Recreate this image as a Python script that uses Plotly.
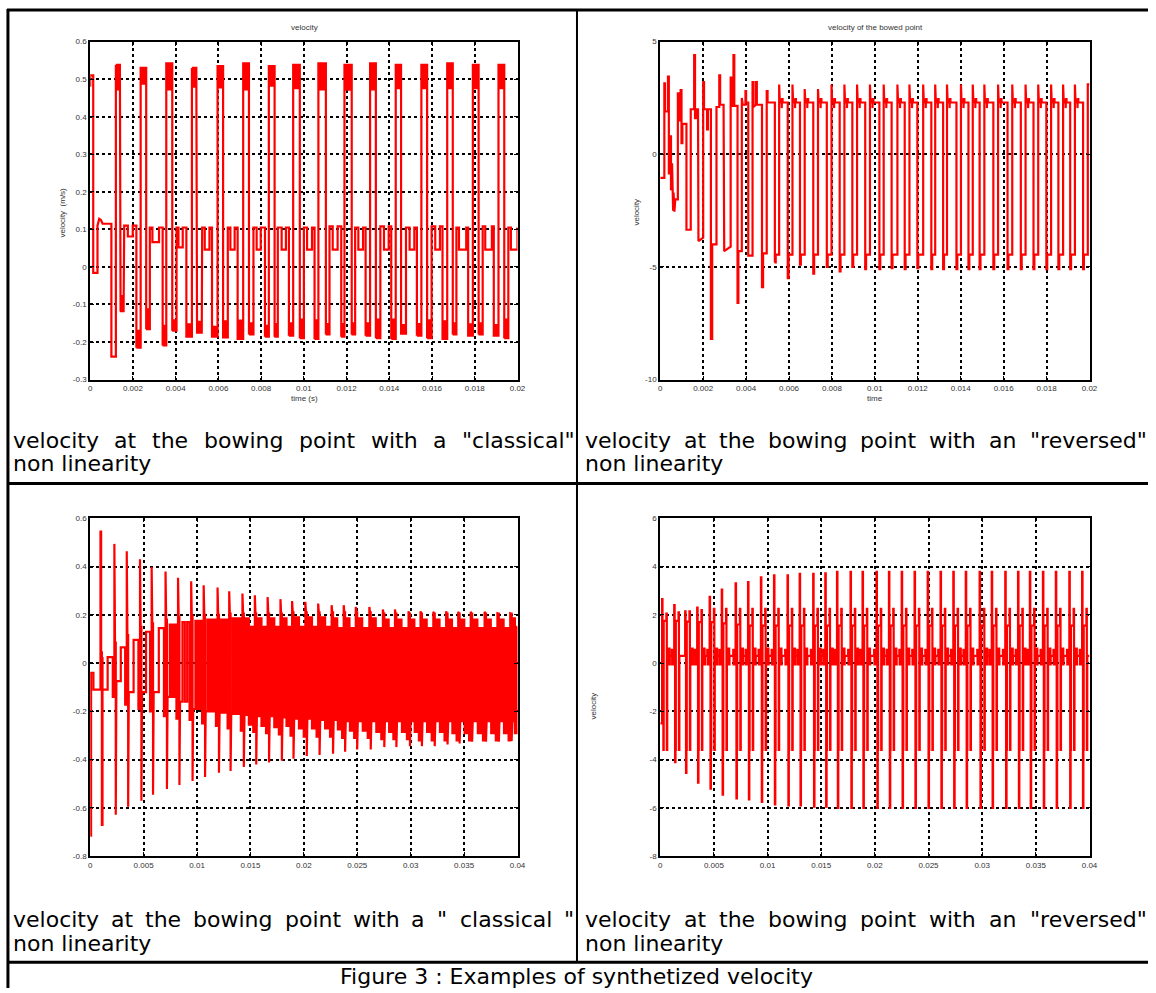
import plotly.graph_objects as go

# ---------------- DATA (time in ms, velocity values) ----------------
# Plot 1 : classical non linearity, 0..0.02 s
P1_INIT_T = [0.0, 0.0, 0.14, 0.14, 0.34, 0.34, 0.42, 0.50, 0.58, 0.99, 0.99, 1.20]
P1_INIT_V = [0.48, 0.51, 0.51, -0.016, -0.016, 0.11, 0.128, 0.125, 0.115, 0.115, -0.239, -0.239]
P1_PULSE_ON = [1.20, 2.36, 3.56, 4.76, 5.96, 7.16, 8.36, 9.50, 10.68, 11.90, 13.10, 14.30, 15.50, 16.71, 17.91, 19.11]
P1_PULSE_OFF = [1.42, 2.62, 3.84, 5.00, 6.22, 7.43, 8.63, 9.81, 11.03, 12.24, 13.37, 14.55, 15.77, 16.97, 18.18, 19.38]
P1_PULSE_TOP = [0.538, 0.530, 0.542, 0.530, 0.535, 0.542, 0.535, 0.538, 0.542, 0.538, 0.542, 0.538, 0.538, 0.542, 0.538, 0.538]
P1_PULSE_LOW = [0.473, 0.485, 0.470, 0.480, 0.475, 0.470, 0.480, 0.473, 0.470, 0.469, 0.470, 0.473, 0.473, 0.473, 0.473, 0.473]
P1_POST_END = [1.59, 2.79, 4.04, 5.24, 6.44, 7.64, 8.78, 10.00, 11.20, 12.40, 13.58, 14.78, 15.98, 17.14, 18.37, 19.57]
P1_POST_LO = [-0.118, -0.166, -0.170, -0.178, -0.188, -0.180, -0.186, -0.190, -0.180, -0.180, -0.190, -0.178, -0.190, -0.180, -0.180, -0.190]
P1_POST_HI = [-0.078, -0.113, -0.142, -0.146, -0.142, -0.150, -0.152, -0.140, -0.152, -0.150, -0.140, -0.152, -0.142, -0.150, -0.150, -0.140]
P1_PLATEAU = [0.110, 0.105, 0.105, 0.105, 0.105, 0.105, 0.105, 0.105, 0.108, 0.105, 0.108, 0.105, 0.108, 0.105, 0.108, 0.105]
P1_DIP_ON = [1.76, 2.91, 4.13, 5.36, 6.56, 7.79, 8.96, 10.15, 11.35, 12.55, 13.75, 14.95, 16.15, 17.26, 18.49, 19.69]
P1_DIP_OFF = [1.99, 3.22, 4.33, 5.58, 6.76, 7.98, 9.16, 10.38, 11.58, 12.77, 13.97, 15.17, 16.37, 17.60, 18.80, 20.00]
P1_DIP_V = [0.081, 0.066, 0.052, 0.046, 0.046, 0.046, 0.046, 0.046, 0.046, 0.046, 0.046, 0.046, 0.046, 0.046, 0.046, 0.046]
P1_PRE_ON = [2.16, 3.39, 4.50, 5.70, 6.90, 8.18, 9.30, 10.50, 11.75, 12.89, 14.09, 15.29, 16.49, 17.69, 18.89]
P1_PRE_LO = [-0.215, -0.209, -0.186, -0.186, -0.192, -0.186, -0.183, -0.192, -0.186, -0.183, -0.192, -0.183, -0.192, -0.183, -0.183]
P1_PRE_HI = [-0.170, -0.157, -0.150, -0.157, -0.140, -0.157, -0.150, -0.142, -0.152, -0.150, -0.140, -0.152, -0.142, -0.150, -0.152]

# Plot 2 : reversed non linearity, 0..0.02 s
P2_INIT_T = [0, 0.19, 0.19, 0.22, 0.22, 0.36, 0.36, 0.40, 0.40, 0.45, 0.45, 0.50, 0.50, 0.55, 0.60, 0.62, 0.66, 0.70,
             0.82, 0.82, 0.86, 0.86, 0.95, 0.95, 0.99, 0.99, 1.03, 1.03, 1.22, 1.22, 1.42, 1.42, 1.58, 1.58, 1.62, 1.62,
             1.66, 1.66, 1.76, 1.76, 1.78, 2.00, 2.00, 2.04, 2.04, 2.18, 2.18, 2.22, 2.22, 2.36, 2.36, 2.42, 2.42, 2.62,
             2.62, 2.75, 2.75, 2.79, 2.79, 2.95, 2.95, 2.98, 3.28, 3.28, 3.32, 3.32, 3.41, 3.41, 3.45, 3.45, 3.60, 3.60,
             3.64, 3.64, 3.80, 3.80, 3.84, 3.97, 3.97, 4.00, 4.00, 4.10, 4.10, 4.30, 4.30, 4.34, 4.34, 4.46, 4.46, 4.50,
             4.50, 4.74, 4.74, 4.79, 4.79, 4.96, 4.96, 5.00, 5.00, 5.34]
P2_INIT_V = [-1.05, -1.05, 3.15, 3.15, 1.9, 1.9, 3.45, 3.45, -0.85, -0.85, 0.8, 0.8, -1.6, -0.4, -2.5, -1.7, -2.55, -2.0,
             -2.0, 2.7, 2.7, 1.5, 1.5, 2.85, 2.85, 0.5, 0.5, 1.35, 1.35, -3.35, -3.35, 2.0, 2.0, 4.4, 4.4, 1.6,
             1.6, 2.0, 2.0, -3.7, -3.85, -3.7, 3.2, 3.2, 2.0, 2.0, 1.1, 1.1, 2.0, 2.0, -8.2, -8.2, -4.0, -4.0,
             2.1, 2.1, 3.5, 3.5, 2.2, 2.2, -4.2, -4.3, -4.1, 3.4, 3.4, 2.15, 2.15, 4.4, 4.4, 2.15, 2.15, -6.6,
             -6.6, -4.3, -4.3, 2.5, 2.2, 2.2, 2.8, 2.8, 2.3, 2.3, -4.5, -4.5, 3.2, 3.2, 2.1, 2.2, 3.2, 3.2,
             2.2, 2.2, -5.9, -5.9, -4.4, -4.4, 2.8, 2.8, 2.3, 2.3]
P2_FALL = [5.34, 5.94, 6.51, 7.13, 7.76, 8.36, 8.95, 9.55, 10.21, 10.78, 11.39, 11.98, 12.63, 13.18, 13.80, 14.36,
           14.88, 15.52, 16.18, 16.80, 17.39, 17.99, 18.55, 19.10, 19.70]
P2_RISE = [5.54, 6.16, 6.73, 7.35, 7.98, 8.58, 9.17, 9.77, 10.41, 11.05, 11.61, 12.25, 12.81, 13.36, 14.01, 14.56,
           15.10, 15.74, 16.40, 17.02, 17.61, 18.21, 18.77, 19.32, 19.92]
P2_LOW_SPIKE = [-4.8, -5.5, -4.9, -5.3, -5.0, -5.2, -5.0, -5.1, -5.1, -5.05, -5.1, -5.05, -5.1, -5.1, -5.1, -5.1,
                -5.1, -5.1, -5.1, -5.1, -5.1, -5.1, -5.1, -5.1, -5.1]
P2_HIGH_SPIKE = [3.1, 3.1, 2.9, 2.9, 3.1, 3.1, 3.1, 3.1, 3.1, 3.1, 3.1, 3.1, 3.1, 3.1, 3.1, 3.1,
                 3.1, 3.1, 3.1, 3.1, 3.1, 3.1, 3.1, 3.1, 3.1]
P2_LOW_LEVEL = [-4.45]
P2_HIGH_LEVEL = [2.3]

# Plot 3 : classical non linearity, 0..0.04 s
P3_INIT_T = [0.0, 0.08, 0.08, 0.30, 0.30, 0.96]
P3_INIT_V = [-0.715, -0.715, -0.04, -0.04, -0.11, -0.11]
P3_UP_T = [0.96, 2.26, 3.42, 4.66, 5.75, 7.05, 8.22, 9.45, 10.62, 11.92, 13.01, 14.25, 15.41, 16.61, 17.81, 18.90,
           20.14, 21.34, 22.60, 23.73, 24.86, 26.13, 27.40, 28.53, 29.80, 30.92, 32.12, 33.32, 34.45, 35.62, 36.92,
           38.12, 39.32]
P3_UP_V = [0.545, 0.494, 0.463, 0.430, 0.398, 0.380, 0.354, 0.339, 0.323, 0.313, 0.298, 0.288, 0.281, 0.274, 0.265,
           0.257, 0.254, 0.247, 0.240, 0.240, 0.233, 0.233, 0.222, 0.222, 0.215, 0.215, 0.213, 0.215, 0.213, 0.213,
           0.213, 0.206, 0.206]
P3_DN_V = [-0.670, -0.628, -0.595, -0.570, -0.545, -0.522, -0.505, -0.488, -0.472, -0.454, -0.447, -0.430, -0.420,
           -0.412, -0.405, -0.396, -0.385, -0.381, -0.375, -0.367, -0.358, -0.358, -0.348, -0.348, -0.344, -0.344,
           -0.344, -0.337, -0.333, -0.326, -0.326, -0.326, -0.323]
P3_HI = [0.025, 0.065, 0.096, 0.130, 0.145, 0.160, 0.170, 0.175, 0.180, 0.180, 0.185, 0.185, 0.185, 0.185, 0.185,
         0.190, 0.190, 0.190, 0.190, 0.190, 0.190, 0.190, 0.185, 0.185, 0.185, 0.185, 0.185, 0.185, 0.185, 0.185,
         0.185, 0.185, 0.185]
P3_HI2 = [0.025, 0.065, 0.096, 0.100, 0.110, 0.120, 0.130, 0.140, 0.150, 0.150, 0.150, 0.150, 0.150, 0.150, 0.150,
          0.150, 0.150, 0.150, 0.150, 0.150, 0.150, 0.150, 0.150, 0.150, 0.150, 0.150, 0.150, 0.150, 0.150, 0.150,
          0.150, 0.150, 0.150]
P3_LO = [-0.110, -0.075, -0.120, -0.120, -0.120, -0.140, -0.160, -0.190, -0.200, -0.205, -0.210, -0.215, -0.220,
         -0.220, -0.225, -0.230, -0.230, -0.235, -0.235, -0.240, -0.240, -0.240, -0.240, -0.240, -0.240, -0.240,
         -0.240, -0.240, -0.240, -0.240, -0.240, -0.240, -0.240]
P3_LO2 = [-0.110, -0.075, -0.120, -0.150, -0.160, -0.180, -0.200, -0.220, -0.235, -0.245, -0.250, -0.255, -0.260,
          -0.265, -0.265, -0.270, -0.270, -0.275, -0.275, -0.280, -0.280, -0.285, -0.285, -0.285, -0.285, -0.285,
          -0.285, -0.290, -0.290, -0.290, -0.290, -0.290, -0.290]
P3_STEP = [-0.140, -0.172, -0.190, -0.200, -0.220, -0.230, -0.235, -0.250, -0.260, -0.270, -0.280, -0.285, -0.290,
           -0.295, -0.300, -0.305, -0.305, -0.305, -0.310, -0.310, -0.310, -0.315, -0.315, -0.315, -0.320, -0.320,
           -0.320, -0.320, -0.320, -0.320, -0.320, -0.320, -0.290]
P3_TEETH = [1, 1, 1, 1, 1, 2, 2, 2, 3, 3, 3, 4, 4, 5, 5, 6, 6, 7, 7, 8, 8, 9, 9, 10, 10, 10, 10, 10, 10, 10,
            10, 10, 10]

# Plot 4 : reversed non linearity, 0..0.04 s
P4_UP_T = [0.17, 1.30, 2.32, 3.44, 4.60, 5.73, 7.02, 8.18, 9.38, 10.60, 11.86, 12.99, 14.25, 15.38, 16.47, 17.73,
           18.85, 20.15, 21.31, 22.50, 23.70, 24.92, 26.12, 27.31, 28.47, 29.76, 30.89, 32.15, 33.34, 34.44, 35.66,
           36.86, 38.12, 39.31]
P4_UP_V = [2.65, 2.40, 2.15, 2.30, 2.75, 3.05, 3.30, 3.36, 3.55, 3.64, 3.64, 3.70, 3.70, 3.72, 3.78, 3.78, 3.78,
           3.78, 3.78, 3.78, 3.78, 3.78, 3.78, 3.78, 3.78, 3.78, 3.78, 3.78, 3.78, 3.78, 3.78, 3.78, 3.78, 3.78]
P4_DN_V = [-0.35, -4.10, -4.55, -4.95, -5.20, -5.45, -5.60, -5.65, -5.75, -5.85, -5.90, -5.90, -5.95, -5.95, -6.00,
           -6.00, -6.00, -6.00, -6.00, -6.00, -6.00, -6.00, -6.00, -6.00, -6.00, -6.00, -6.00, -6.00, -6.00, -6.00,
           -6.00, -6.00, -6.00, -6.00]
P4_PLATEAU = [1.75, 1.75, 1.72, 1.70, 1.70, 1.65, 1.60, 1.55, 1.55, 1.55, 1.55, 1.55, 1.55, 1.55, 1.55, 1.55, 1.55,
              1.55, 1.55, 1.55, 1.55, 1.55, 1.55, 1.55, 1.55, 1.55, 1.55, 1.55, 1.55, 1.55, 1.55, 1.55, 1.55, 1.55]
P4_SECOND = [2.05, 2.10, 2.15, 2.20, 2.25, 2.25, 2.25, 2.25, 2.25, 2.25, 2.25, 2.25, 2.25, 2.25, 2.25, 2.25, 2.25,
             2.25, 2.25, 2.25, 2.25, 2.25, 2.25, 2.25, 2.25, 2.25, 2.25, 2.25, 2.25, 2.25, 2.25, 2.25, 2.25, 2.25]
P4_MID_LOW = [-3.6]
P4_BASE = [0.30]
P4_BUMP_HI = [0.60]
P4_BUMP_LO = [-0.05]

# Axis tick labels
P1_XTICKS = [0, 0.002, 0.004, 0.006, 0.008, 0.01, 0.012, 0.014, 0.016, 0.018, 0.02]
P1_XTEXT = ["0", "0.002", "0.004", "0.006", "0.008", "0.01", "0.012", "0.014", "0.016", "0.018", "0.02"]
P1_YTICKS = [-0.3, -0.2, -0.1, 0, 0.1, 0.2, 0.3, 0.4, 0.5, 0.6]
P1_YTEXT = ["-0.3", "-0.2", "-0.1", "0", "0.1", "0.2", "0.3", "0.4", "0.5", "0.6"]
P2_YTICKS = [-10, -5, 0, 5]
P2_YTEXT = ["-10", "-5", "0", "5"]
P3_XTICKS = [0, 0.005, 0.01, 0.015, 0.02, 0.025, 0.03, 0.035, 0.04]
P3_XTEXT = ["0", "0.005", "0.01", "0.015", "0.02", "0.025", "0.03", "0.035", "0.04"]
P3_YTICKS = [-0.8, -0.6, -0.4, -0.2, 0, 0.2, 0.4, 0.6]
P3_YTEXT = ["-0.8", "-0.6", "-0.4", "-0.2", "0", "0.2", "0.4", "0.6"]
P4_YTICKS = [-8, -6, -4, -2, 0, 2, 4, 6]
P4_YTEXT = ["-8", "-6", "-4", "-2", "0", "2", "4", "6"]

TITLES = ["velocity", "velocity of the bowed point"]
CAPTION_LEFT_1 = ['velocity', 'at', 'the', 'bowing', 'point', 'with', 'a', '"classical"']
CAPTION_RIGHT = ['velocity', 'at', 'the', 'bowing', 'point', 'with', 'an', '"reversed"']
CAPTION_LEFT_2 = ['velocity', 'at', 'the', 'bowing', 'point', 'with', 'a', '"', 'classical', '"']
CAPTION_LINE2 = "non linearity"
FIG_CAPTION = "Figure 3 : Examples of synthetized velocity"


# ---------------- waveform assembly (step signal from the values above) ----------------
class Wave:
    def __init__(self, ts, vs):
        self.x = list(ts)
        self.y = list(vs)

    def jump(self, t, v):
        self.x += [t, t]
        self.y += [self.y[-1], v]

    def hold(self, t):
        self.x.append(t)
        self.y.append(self.y[-1])

    def block(self, t1, a, b, n):
        t0 = self.x[-1]
        dt = (t1 - t0) / n
        for i in range(n):
            self.jump(t0 + i * dt, a)
            self.jump(t0 + (i + 0.5) * dt, b)
        self.hold(t1)

    def sec(self):
        return [t / 1000.0 for t in self.x], self.y


# plot 1
w1 = Wave(P1_INIT_T, P1_INIT_V)
for k in range(len(P1_PULSE_ON)):
    if k > 0:
        w1.jump(P1_PRE_ON[k - 1], P1_PRE_LO[k - 1])
        w1.block(P1_PULSE_ON[k], P1_PRE_HI[k - 1], P1_PRE_LO[k - 1], 6)
    w1.jump(P1_PULSE_ON[k], P1_PULSE_TOP[k])
    w1.block(P1_PULSE_OFF[k], P1_PULSE_LOW[k], P1_PULSE_TOP[k], 7)
    w1.jump(P1_PULSE_OFF[k], P1_POST_LO[k])
    w1.block(P1_POST_END[k], P1_POST_HI[k], P1_POST_LO[k], 6)
    w1.jump(P1_POST_END[k], P1_PLATEAU[k])
    w1.hold(P1_DIP_ON[k])
    w1.jump(P1_DIP_ON[k], P1_DIP_V[k])
    w1.hold(P1_DIP_OFF[k])
    w1.jump(P1_DIP_OFF[k], P1_PLATEAU[k])
    if k < len(P1_PRE_ON):
        w1.hold(P1_PRE_ON[k])

# plot 2
w2 = Wave(P2_INIT_T, P2_INIT_V)
for k in range(len(P2_RISE)):
    f, r = P2_FALL[k], P2_RISE[k]
    w2.jump(f, P2_LOW_SPIKE[k])
    w2.block(f + 0.04, -4.6, P2_LOW_SPIKE[k], 2)
    w2.jump(f + 0.04, P2_LOW_LEVEL[0])
    w2.hold(r)
    w2.jump(r, P2_HIGH_SPIKE[k])
    end = P2_FALL[k + 1] if k + 1 < len(P2_FALL) else 20.0
    if r + 0.16 < end:
        w2.hold(r + 0.03)
        w2.jump(r + 0.03, P2_HIGH_LEVEL[0])
        w2.hold(r + 0.12)
        w2.block(r + 0.16, 2.05, 2.45, 2)
        w2.jump(r + 0.16, P2_HIGH_LEVEL[0])
    w2.hold(end)

# plot 3
w3 = Wave(P3_INIT_T, P3_INIT_V)
n3 = len(P3_UP_T)
for k in range(n3):
    t = P3_UP_T[k]
    tn = P3_UP_T[k + 1] if k + 1 < n3 else 40.0
    w3.jump(t, P3_UP_V[k])
    w3.hold(t + 0.06)
    w3.jump(t + 0.06, P3_HI[k] + 0.02)
    w3.hold(t + 0.13)
    w3.jump(t + 0.13, P3_DN_V[k])
    w3.hold(t + 0.19)
    w3.jump(t + 0.19, P3_HI[k])
    end = tn - 0.15 if k + 1 < n3 else 40.0
    nt = P3_TEETH[k]
    if nt >= 4:
        mid = t + 0.19 + (end - t - 0.19) * 0.5
        w3.block(mid, P3_LO[k], P3_HI[k], nt // 2)
        w3.block(end, P3_LO2[k], P3_HI2[k], nt - nt // 2)
    else:
        w3.block(end, P3_LO[k], P3_HI[k], nt)
    if k + 1 < n3:
        w3.jump(end, P3_STEP[k])
        w3.hold(tn)

# plot 4
w4 = Wave([0.0, 0.0], [-2.5, -2.5])
n4 = len(P4_UP_T)
for k in range(n4):
    t = P4_UP_T[k]
    tn = P4_UP_T[k + 1] if k + 1 < n4 else 40.0
    w4.hold(t)
    w4.jump(t, P4_UP_V[k]); w4.hold(t + 0.04)
    w4.jump(t + 0.04, P4_PLATEAU[k]); w4.hold(t + 0.08)
    w4.jump(t + 0.08, P4_DN_V[k]); w4.hold(t + 0.12)
    w4.jump(t + 0.12, P4_MID_LOW[0]); w4.hold(t + 0.15)
    w4.jump(t + 0.15, P4_PLATEAU[k]); w4.hold(t + 0.40)
    w4.jump(t + 0.40, P4_SECOND[k]); w4.hold(t + 0.44)
    w4.jump(t + 0.44, P4_MID_LOW[0]); w4.hold(min(t + 0.48, tn))
    if t + 0.48 < tn:
        w4.jump(t + 0.48, P4_BASE[0]); w4.hold(t + 0.62)
        if t + 0.72 < tn - 0.3:
            w4.block(t + 0.72, P4_BUMP_HI[0], P4_BUMP_LO[0], 2)
            w4.jump(t + 0.72, P4_BASE[0]); w4.hold(tn - 0.22)
            w4.block(tn - 0.10, P4_BUMP_HI[0] - 0.05, P4_BUMP_LO[0], 2)
            w4.jump(tn - 0.10, P4_BASE[0])
        w4.hold(tn)

# ---------------- figure ----------------
W, H = 1156, 993
RED = '#ff0000'


def px(x):
    return x / W


def py(y):
    return 1 - y / H


fig = go.Figure()
for i, w in enumerate([w1, w2, w3, w4]):
    xs, ys = w.sec()
    fig.add_trace(go.Scatter(x=xs, y=ys, mode='lines', line=dict(color=RED, width=2.2),
                             xaxis='x' if i == 0 else 'x%d' % (i + 1),
                             yaxis='y' if i == 0 else 'y%d' % (i + 1),
                             showlegend=False, hoverinfo='skip'))

tickfont = dict(family='Liberation Sans, Arial, sans-serif', size=8, color='#333333')
common = dict(showline=True, linecolor='black', linewidth=2, mirror='ticks', ticks='inside', ticklen=4,
              tickcolor='black', tickwidth=1, showgrid=True, gridcolor='black', griddash='dot', gridwidth=1.5,
              zeroline=False, tickfont=tickfont, fixedrange=True, tickmode='array')

colL = [px(89), px(520)]
colR = [px(664), px(1097)]
rowT = [py(379), py(38)]
rowB = [py(860), py(519)]

fig.update_layout(
    width=W, height=H, margin=dict(l=0, r=0, t=0, b=0), autosize=False,
    paper_bgcolor='white', plot_bgcolor='white', showlegend=False,
    xaxis=dict(domain=colL, range=[0, 0.02], tickvals=P1_XTICKS, ticktext=P1_XTEXT, anchor='y', **common),
    yaxis=dict(domain=rowT, range=[-0.3, 0.6], tickvals=P1_YTICKS, ticktext=P1_YTEXT, anchor='x', **common),
    xaxis2=dict(domain=colR, range=[0, 0.02], tickvals=P1_XTICKS, ticktext=P1_XTEXT, anchor='y2', **common),
    yaxis2=dict(domain=rowT, range=[-10, 5], tickvals=P2_YTICKS, ticktext=P2_YTEXT, anchor='x2', **common),
    xaxis3=dict(domain=colL, range=[0, 0.04], tickvals=P3_XTICKS, ticktext=P3_XTEXT, anchor='y3', **common),
    yaxis3=dict(domain=rowB, range=[-0.8, 0.6], tickvals=P3_YTICKS, ticktext=P3_YTEXT, anchor='x3', **common),
    xaxis4=dict(domain=colR, range=[0, 0.04], tickvals=P3_XTICKS, ticktext=P3_XTEXT, anchor='y4', **common),
    yaxis4=dict(domain=rowB, range=[-8, 6], tickvals=P4_YTICKS, ticktext=P4_YTEXT, anchor='x4', **common),
)

# table rules
shapes = []


def hline(y, x0, x1, wdt):
    shapes.append(dict(type='line', xref='paper', yref='paper', x0=px(x0), x1=px(x1), y0=py(y), y1=py(y),
                       line=dict(color='black', width=wdt)))


def vline(x, y0, y1, wdt):
    shapes.append(dict(type='line', xref='paper', yref='paper', x0=px(x), x1=px(x), y0=py(y0), y1=py(y1),
                       line=dict(color='black', width=wdt)))


hline(6, 5, W, 3)
vline(6, 5, H, 3)
vline(580, 6, 967, 2)
hline(484, 6, W, 3)
hline(967, 6, W, 3)
fig.update_layout(shapes=shapes)

ann = []
small = dict(family='Liberation Sans, Arial, sans-serif', size=8, color='#333333')


def label(text, x, y, font=small, angle=0, xanchor='center'):
    ann.append(dict(text=text, x=px(x), y=py(y), xref='paper', yref='paper', showarrow=False, font=font,
                    textangle=angle, xanchor=xanchor, yanchor='middle'))


label(TITLES[0], 305, 24)
label(TITLES[1], 881, 24)
label("time (s)", 305, 398)
label("time", 881, 398)
label("velocity  (m/s)", 61, 210, angle=-90)
label("velocity", 640, 210, angle=-90)
label("velocity", 597, 708, angle=-90)

# captions (justified first lines) -- DejaVu Sans advance widths per 1000 em
CW = {' ': 318, '"': 460, ':': 337, '.': 318, '3': 636, 'F': 575, 'E': 632, 'a': 613, 'b': 635, 'c': 550,
      'd': 635, 'e': 615, 'f': 352, 'g': 635, 'h': 634, 'i': 278, 'l': 278, 'm': 974, 'n': 634, 'o': 612,
      'p': 635, 'r': 411, 's': 521, 't': 392, 'u': 634, 'v': 592, 'w': 818, 'x': 592, 'y': 592, 'z': 525}
FS = 22
capfont = dict(family='DejaVu Sans, Verdana, sans-serif', size=FS, color='black')


def wwidth(word):
    return sum(CW.get(c, 600) for c in word) * FS / 1000.0


def justify(words, x0, x1, y):
    total = sum(wwidth(w) for w in words)
    gap = max((x1 - x0 - total) / (len(words) - 1), CW[' '] * FS / 1000.0 * 0.6)
    x = x0
    for w in words:
        label(w, x, y, font=capfont, xanchor='left')
        x += wwidth(w) + gap


justify(CAPTION_LEFT_1, 9, 575, 440)
justify(CAPTION_RIGHT, 586, 1152, 440)
justify(CAPTION_LEFT_2, 9, 575, 924)
justify(CAPTION_RIGHT, 586, 1152, 924)
label(CAPTION_LINE2, 9, 464, font=capfont, xanchor='left')
label(CAPTION_LINE2, 586, 464, font=capfont, xanchor='left')
label(CAPTION_LINE2, 9, 948, font=capfont, xanchor='left')
label(CAPTION_LINE2, 586, 948, font=capfont, xanchor='left')
label(FIG_CAPTION, 580, 981, font=capfont)

fig.update_layout(annotations=ann)
fig.write_html("out.html", config={'displayModeBar': False},
               post_script="document.body.style.margin='0px';document.body.style.overflow='hidden';")
